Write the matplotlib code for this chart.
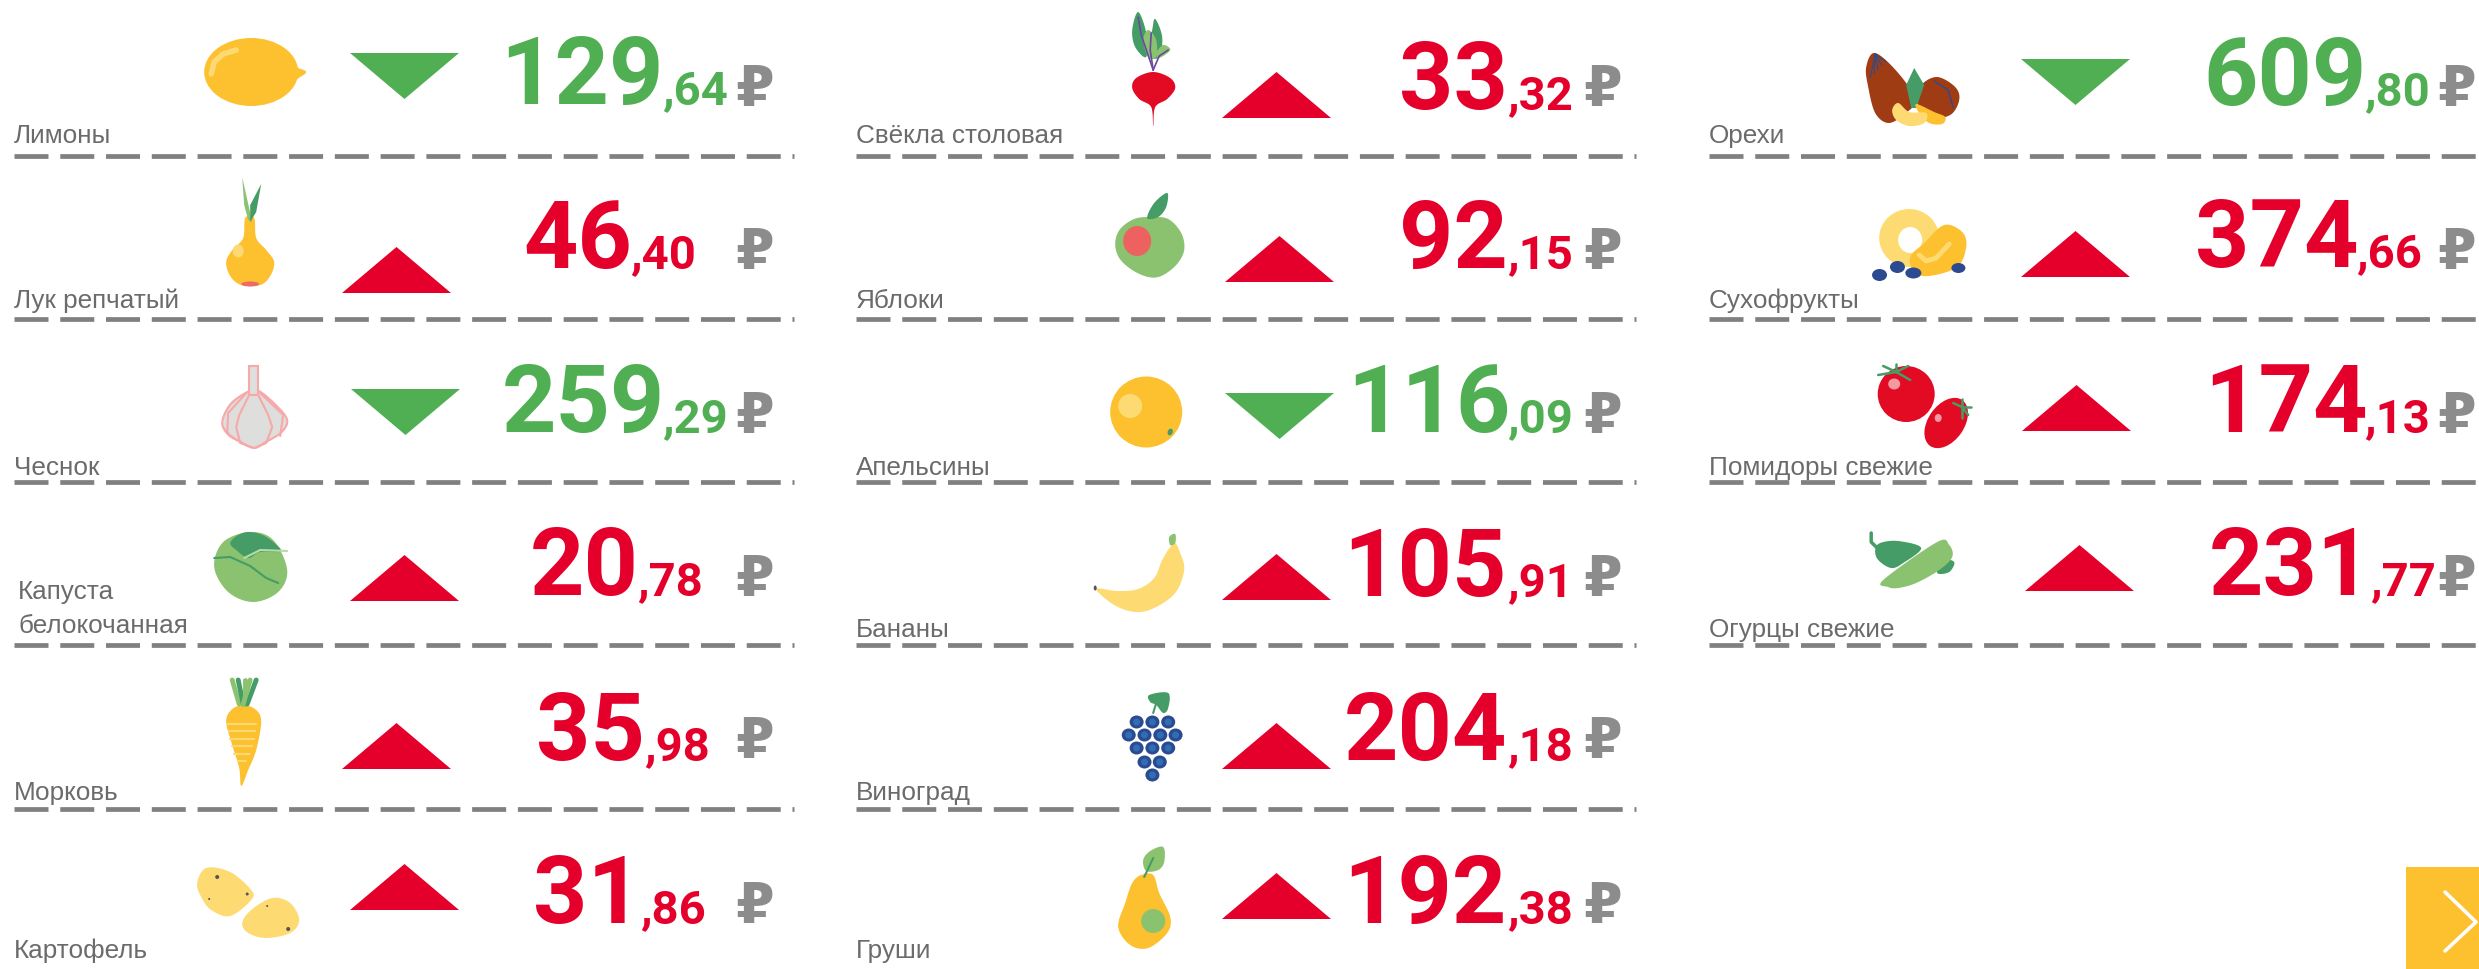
"""Food prices board: one tile per product with icon, direction and price."""
import numpy as np
import matplotlib
matplotlib.use("Agg")
import matplotlib.pyplot as plt
from matplotlib.patches import Ellipse, Polygon, Circle
from matplotlib.transforms import Affine2D

plt.rcParams['font.family'] = ['Liberation Sans', 'DejaVu Sans']
plt.rcParams['lines.scale_dashes'] = False

names = ["Лимоны", "Лук репчатый", "Чеснок", "Капуста\nбелокочанная", "Морковь", "Картофель",
         "Свёкла столовая", "Яблоки", "Апельсины", "Бананы", "Виноград", "Груши",
         "Орехи", "Сухофрукты", "Помидоры свежие", "Огурцы свежие"]
prices = ["129,64", "46,40", "259,29", "20,78", "35,98", "31,86",
          "33,32", "92,15", "116,09", "105,91", "204,18", "192,38",
          "609,80", "374,66", "174,13", "231,77"]
rising = [False, True, False, True, True, True,
          True, True, False, True, True, True,
          False, True, True, True]

# layout, px in the 2479x969 picture
label_x = [14, 14, 14, 18, 14, 14, 856, 856, 856, 856, 856, 856, 1709, 1709, 1709, 1709]
label_y = [143, 308, 475, 633, 800, 958, 143, 308, 475, 637, 800, 958, 143, 308, 475, 637]
num_x = [500, 523, 502, 530, 536, 533, 1399, 1399, 1347, 1343, 1344, 1343, 2203, 2195, 2204, 2209]
cent_x = [662, 630, 662, 637, 644, 640, 1507, 1507, 1507, 1507, 1507, 1507, 2364, 2356, 2364, 2370]
num_y = [104, 268, 432, 595, 760, 923, 109, 268, 432, 596, 760, 923, 105, 267, 432, 595]
tri_x = [350, 342, 351, 350, 342, 350, 1222, 1225, 1225, 1222, 1222, 1222, 2021, 2021, 2022, 2025]
tri_y = [53, 247, 389, 555, 723, 864, 72, 236, 393, 554, 723, 873, 59, 231, 385, 545]
rub_x = [735, 735, 735, 735, 735, 735, 1583, 1583, 1583, 1583, 1583, 1583, 2437, 2437, 2437, 2437]
rub_y = [105, 268, 432, 595, 757, 922, 105, 268, 432, 595, 757, 922, 105, 268, 432, 595]
line_y = [156, 319, 482, 645, 809]
line_x = [(14, 793.5), (856, 1635.5), (1709, 2479)]
line_rows = [5, 5, 4]

RED = "#e4002b"
GREEN = "#50af52"
GREY = "#8c8c8c"
TEXT = "#6b6b6b"
YELLOW = "#fdc02f"
PALE = "#fddb72"
LEAF = "#8bc26f"
DARK = "#459c66"
BEET = "#e30a24"
BLUE = "#2b4a8f"

fig = plt.figure(figsize=(24.79, 9.69), dpi=100, facecolor="white")
ax = fig.add_axes([0, 0, 1, 1])
ax.set_xlim(0, 2479)
ax.set_ylim(969, 0)
ax.axis("off")

icon_tf = Affine2D().translate(-1.8, 0) + ax.transData


def blob(pts, color, z=3):
    # closed smooth shape through the given points (Catmull-Rom)
    p = np.array(pts, dtype=float)
    out = []
    for i in range(len(p)):
        a, b, c, d = p[i - 1], p[i], p[(i + 1) % len(p)], p[(i + 2) % len(p)]
        for t in np.linspace(0, 1, 12, endpoint=False):
            out.append(0.5 * (2 * b + (c - a) * t + (2 * a - 5 * b + 4 * c - d) * t ** 2
                              + (3 * b - a - 3 * c + d) * t ** 3))
    ax.add_patch(Polygon(out, closed=True, fc=color, ec="none", zorder=z, transform=icon_tf))


def oval(x, y, w, h, color, angle=0, z=3):
    ax.add_patch(Ellipse((x, y), w, h, angle=angle, fc=color, ec="none", zorder=z, transform=icon_tf))


def stroke(xs, ys, color, lw=1.5, z=4):
    ax.plot(xs, ys, color=color, lw=lw, solid_capstyle="round", zorder=z, transform=icon_tf)


# ---- icons ----
# lemon
oval(253, 72, 94, 68, YELLOW)
blob([(288, 52), (297, 66), (308, 72), (298, 80), (288, 92), (275, 72)], YELLOW)
stroke([213, 216, 225, 238], [74, 62, 54, 50], "#fdd973", 4)
# onion
blob([(247, 218), (256, 218), (258, 238), (268, 250), (276, 262), (272, 276), (262, 285), (243, 285), (232, 276), (228, 262), (234, 250), (245, 238)], YELLOW)
oval(252, 284, 18, 5, "#ee6a65")
oval(240, 251, 11, 13, "#fdd973", z=4)
ax.add_patch(Polygon([(244, 177), (254, 222), (250, 220), (246, 205)], fc=LEAF, ec="none", zorder=4, transform=icon_tf))
ax.add_patch(Polygon([(263, 184), (258, 212), (252, 222), (252, 205)], fc=DARK, ec="none", zorder=4, transform=icon_tf))
# garlic
blob([(251, 390), (261, 390), (279, 405), (290, 420), (284, 433), (268, 443), (256, 449), (242, 443), (229, 435), (223, 422), (232, 403)], "#f7a8a8")
blob([(252, 392), (260, 392), (277, 406), (288, 420), (282, 432), (267, 441), (256, 447), (243, 441), (231, 433), (225, 422), (234, 404)], "#dededc", z=4)
ax.add_patch(Polygon([(251, 366), (260, 366), (260, 395), (251, 395)], fc="#dededc", ec="#f7a8a8", lw=1.5, zorder=5, transform=icon_tf))
stroke([251, 241, 238, 242, 256], [395, 415, 427, 443, 448], "#f7a8a8", 1.5, 5)
stroke([260, 270, 274, 268, 256], [395, 415, 427, 443, 448], "#f7a8a8", 1.5, 5)
stroke([248, 230, 229], [393, 413, 433], "#f7a8a8", 1.5, 5)
stroke([262, 285, 282], [393, 415, 436], "#f7a8a8", 1.5, 5)
# cabbage
blob([(252, 532), (275, 540), (289, 570), (280, 592), (255, 602), (230, 592), (216, 567), (225, 542)], LEAF)
blob([(252, 532), (268, 537), (283, 551), (262, 552), (250, 558), (238, 550), (232, 543), (240, 535)], DARK, z=4)
stroke([216, 232, 252, 268, 280], [558, 557, 566, 578, 583], DARK, 1.5, 5)
stroke([246, 262, 289], [558, 550, 551], "#b9dba8", 1.5, 5)
# carrot
blob([(245, 705), (258, 710), (263, 722), (258, 750), (250, 770), (243, 786), (241, 768), (234, 745), (228, 722), (233, 710)], YELLOW)
for yy, half in zip([724, 731, 739, 746, 754, 761], [15, 14, 13, 11, 9, 5]):
    stroke([245 - half, 245 + half - 2], [yy, yy], "#fdd973", 1.5)
for x0, x1, c in [(241, 234, LEAF), (245, 240, DARK), (247, 247, LEAF), (249, 258, DARK), (245, 252, LEAF)]:
    stroke([x0, x1], [704, 680], c, 3.5)
# potatoes
blob([(199, 883), (208, 868), (232, 872), (253, 890), (253, 900), (232, 916), (213, 910), (203, 897)], PALE)
blob([(244, 923), (253, 910), (274, 898), (292, 903), (301, 920), (292, 933), (268, 938), (250, 933)], PALE)
for dx, dy, r in [(219, 877, 2), (249, 894, 1.5), (211, 899, 1), (290, 929, 2), (269, 906, 1)]:
    ax.add_patch(Circle((dx, dy), r, fc="#555555", ec="none", zorder=4, transform=icon_tf))
# beet
blob([(1155, 72), (1172, 78), (1177, 88), (1169, 99), (1157, 107), (1155, 126), (1153, 107), (1141, 99), (1134, 88), (1138, 78)], BEET)
blob([(1140, 12), (1148, 33), (1148, 57), (1137, 47), (1134, 30)], DARK)
blob([(1157, 19), (1164, 37), (1161, 57), (1150, 55), (1154, 30)], DARK)
blob([(1150, 30), (1158, 40), (1158, 57), (1150, 57), (1145, 40)], LEAF, z=4)
blob([(1165, 45), (1172, 50), (1161, 58), (1158, 53)], LEAF, z=4)
for xs, ys in [([1140, 1143, 1155], [17, 35, 70]), ([1153, 1152, 1155], [33, 50, 70]), ([1170, 1161, 1155], [50, 56, 70])]:
    stroke(xs, ys, "#6a4aa0", 1.2, 5)
# apple
blob([(1152, 217), (1170, 219), (1183, 233), (1186, 250), (1178, 265), (1163, 276), (1150, 277), (1134, 270), (1121, 258), (1117, 243), (1122, 229), (1136, 219)], LEAF)
oval(1139, 241, 28, 30, "#ee6161", z=4)
blob([(1149, 218), (1156, 203), (1169, 193), (1168, 207), (1160, 217)], DARK, z=4)
# orange
oval(1148, 412, 72, 71, YELLOW)
oval(1132, 406, 24, 24, PALE, z=4)
oval(1172, 432, 5, 7, DARK, angle=20, z=4)
# banana
blob([(1098, 589), (1119, 591), (1140, 589), (1156, 578), (1164, 560), (1172, 547), (1177, 543), (1182, 553), (1186, 570), (1177, 593), (1156, 608), (1137, 612), (1116, 605)], PALE)
blob([(1171, 537), (1177, 534), (1177, 543), (1172, 545)], LEAF, z=4)
oval(1097, 588, 3, 5, "#555555", z=4)
# grapes
for gy, gxs in zip([722, 735, 748, 762, 775],
                   [(567, 597, 627), (552, 582, 612, 641), (567, 597, 627), (582, 611), (597,)]):
    for gx in gxs:
        oval(gx / 1.9 + 840, gy, 14, 13, BLUE)
        oval(gx / 1.9 + 840, gy, 7, 7, "#2f6eb5", z=4)
blob([(1151, 695), (1170, 693), (1170, 708), (1165, 713), (1158, 705), (1152, 702)], DARK)
stroke([1158, 1155], [703, 713], DARK, 1.5)
# pear
blob([(1143, 875), (1155, 875), (1161, 893), (1172, 917), (1169, 933), (1150, 948), (1132, 945), (1120, 927), (1127, 903), (1134, 883)], YELLOW)
oval(1155, 921, 24, 24, LEAF, z=4)
blob([(1165, 847), (1166, 862), (1160, 870), (1148, 871), (1145, 860), (1152, 851)], LEAF)
stroke([1146, 1155], [877, 858], DARK, 1.5)
# nuts
blob([(1877, 53), (1900, 73), (1917, 100), (1905, 115), (1890, 123), (1877, 113), (1870, 87), (1868, 67)], "#9f3c14")
blob([(1939, 77), (1957, 87), (1961, 100), (1952, 115), (1931, 117), (1918, 100), (1923, 85)], "#9f3c14")
ax.add_patch(Polygon([(1916, 68), (1926, 85), (1918, 108), (1913, 108), (1908, 85)], fc=DARK, ec="none", zorder=4, transform=icon_tf))
blob([(1900, 103), (1911, 112), (1928, 113), (1926, 123), (1911, 126), (1898, 120), (1894, 110)], PALE, z=6)
blob([(1918, 104), (1936, 112), (1947, 117), (1944, 124), (1931, 123), (1921, 113)], YELLOW, z=5)
for ex in [1872, 1876, 1880, 1884, 1888]:
    stroke([1877, ex], [54, 78 - (ex - 1872)], "#2b4a8f", 0.8, 4)
stroke([1936, 1950, 1955], [81, 90, 108], "#2b4a8f", 1.0, 4)
# dried fruit
oval(1911, 238, 60, 58, PALE)
oval(1912, 240, 24, 26, "white", z=4)
blob([(1946, 225), (1964, 232), (1968, 247), (1959, 267), (1931, 276), (1916, 272), (1912, 257), (1926, 243)], YELLOW, z=5)
stroke([1921, 1928, 1938, 1951], [255, 261, 258, 244], PALE, 3.5, 6)
for bx, by, bw, bh in [(393, 275, 15, 12), (428, 267, 15, 12), (459, 273, 16, 11), (547, 268, 14, 10)]:
    oval(bx / 1.952 + 1680, by, bw, bh, BLUE, z=6)
# tomatoes
oval(1908, 394, 57, 56, BEET)
oval(1948, 423, 56, 36, BEET, angle=-55)
oval(1896, 384, 12, 11, "#f39aa0", z=4)
oval(1940, 418, 7, 8, "#f39aa0", z=4)
for cx, cy, tips in [(1898, 372, [(1880, 375), (1885, 366), (1898, 364), (1910, 366), (1912, 380)]),
                     (1964, 407, [(1955, 403), (1964, 399), (1973, 407), (1970, 415), (1964, 418)])]:
    for tx, ty in tips:
        stroke([cx, tx], [cy, ty], DARK, 1.8)
# cucumber and pepper
blob([(1882, 543), (1900, 541), (1923, 548), (1905, 563), (1893, 568), (1880, 560), (1877, 550)], DARK)
blob([(1944, 560), (1956, 562), (1951, 572), (1939, 573)], DARK)
stroke([1873, 1873, 1879], [533, 542, 548], DARK, 2.5)
blob([(1885, 580), (1939, 542), (1951, 545), (1954, 557), (1941, 570), (1918, 583), (1900, 588), (1890, 587)], LEAF, z=4)
# next button
ax.add_patch(Polygon([(2406, 867), (2479, 867), (2479, 969), (2406, 969)], fc=YELLOW, ec="none", zorder=2))
ax.plot([2445, 2476, 2445], [892, 922, 951], color="white", lw=2.6, solid_capstyle="round", zorder=4)

# ---- rows ----
for (x0, x1), n in zip(line_x, line_rows):
    for y in line_y[:n]:
        ax.plot([x0, x1], [y, y], color="#808080", lw=3.4, dashes=(24.48, 8.47),
                dash_capstyle="butt", zorder=1)

for i, name in enumerate(names):
    ax.text(label_x[i], label_y[i], name, fontsize=18.8, color=TEXT, ha="left", va="baseline",
            linespacing=1.5, zorder=7)
    color = RED if rising[i] else GREEN
    whole, cents = prices[i].split(",")
    ax.text(num_x[i], num_y[i], whole, fontsize=68.4, family="Roboto", fontweight="bold", color=color,
            ha="left", va="baseline", zorder=7)
    ax.text(cent_x[i], num_y[i], "," + cents, fontsize=34, family="Roboto", fontweight="bold", color=color,
            ha="left", va="baseline", zorder=7)
    ax.text(rub_x[i], rub_y[i], "₽", fontsize=40, fontweight="bold", color=GREY,
            ha="left", va="baseline", zorder=7)
    tx, ty = tri_x[i], tri_y[i]
    if rising[i]:
        tri = [(tx, ty + 46), (tx + 109, ty + 46), (tx + 54.5, ty)]
    else:
        tri = [(tx, ty), (tx + 109, ty), (tx + 54.5, ty + 46)]
    ax.add_patch(Polygon(tri, closed=True, fc=color, ec="none", zorder=3))

fig.savefig("out.png", dpi=100)
